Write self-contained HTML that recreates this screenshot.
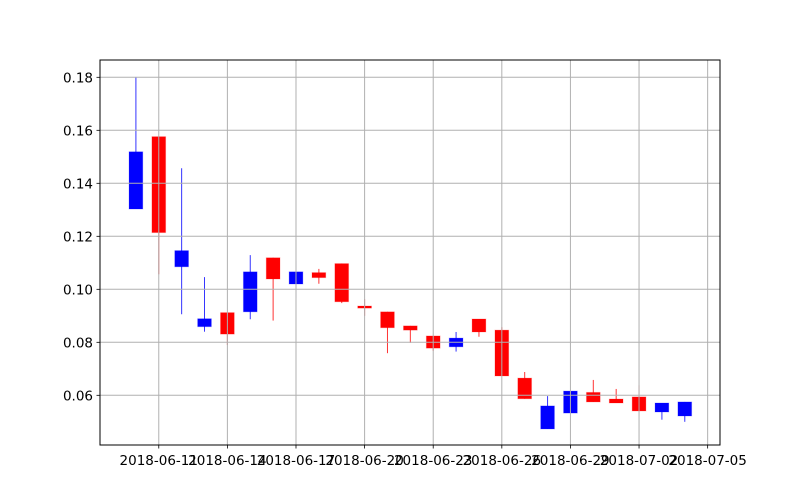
<!DOCTYPE html>
<html><head><meta charset="utf-8"><style>
body{margin:0;background:#fff;}
svg{display:block;font-family:"DejaVu Sans","Liberation Sans",sans-serif;}
</style></head><body>
<svg id="chart" width="800" height="500" viewBox="0 0 800 500"></svg>
<script>
const dates=["2018-06-10","2018-06-11","2018-06-12","2018-06-13","2018-06-14","2018-06-15","2018-06-16","2018-06-17","2018-06-18","2018-06-19","2018-06-20","2018-06-21","2018-06-22","2018-06-23","2018-06-24","2018-06-25","2018-06-26","2018-06-27","2018-06-28","2018-06-29","2018-06-30","2018-07-01","2018-07-02","2018-07-03","2018-07-04"];
const opens=[0.1303,0.1576,0.1085,0.0859,0.0912,0.0915,0.1119,0.1020,0.1063,0.1097,0.0937,0.0915,0.0862,0.0824,0.0783,0.0888,0.0846,0.0665,0.0473,0.0533,0.0611,0.0586,0.0594,0.0537,0.0522];
const closes=[0.1519,0.1214,0.1146,0.0889,0.0831,0.1066,0.1039,0.1066,0.1044,0.0953,0.0929,0.0855,0.0846,0.0778,0.0816,0.0839,0.0673,0.0587,0.0560,0.0616,0.0575,0.0571,0.0541,0.0571,0.0575];
const highs=[0.1800,0.1576,0.1457,0.1046,0.0912,0.1129,0.1119,0.1107,0.1077,0.1097,0.0963,0.0915,0.0862,0.0824,0.0839,0.0888,0.0857,0.0688,0.0597,0.0616,0.0658,0.0624,0.0638,0.0571,0.0575];
const lows=[0.1303,0.1057,0.0906,0.0840,0.0790,0.0887,0.0882,0.0968,0.1021,0.0948,0.0900,0.0759,0.0798,0.0768,0.0765,0.0821,0.0673,0.0587,0.0473,0.0533,0.0575,0.0571,0.0541,0.0508,0.0500];
const yTicks=[0.06,0.08,0.10,0.12,0.14,0.16,0.18];
const xTickLabels=["2018-06-11","2018-06-14","2018-06-17","2018-06-20","2018-06-23","2018-06-26","2018-06-29","2018-07-02","2018-07-05"];

const L=100,R=720,T=60,B=445;
const base=Date.UTC(2018,5,11);
function dayOf(s){const p=s.split('-');return (Date.UTC(+p[0],+p[1]-1,+p[2])-base)/86400000;}
const xMin=-2.57,xMax=24.54,yMin=0.04125,yMax=0.18653;
function X(d){return L+(d-xMin)/(xMax-xMin)*(R-L);}
function Y(v){return B-(v-yMin)/(yMax-yMin)*(B-T);}
const svg=document.getElementById('chart');
const NS="http://www.w3.org/2000/svg";
function mk(tag,attrs,parent){const e=document.createElementNS(NS,tag);for(const k in attrs)e.setAttribute(k,attrs[k]);(parent||svg).appendChild(e);return e;}
const bw=0.6*(R-L)/(xMax-xMin);
dates.forEach((d,i)=>{
  const x=X(dayOf(d));
  const up=closes[i]>=opens[i];
  const col=up?'#0000ff':'#ff0000';
  const g=mk('g',{});
  
  
  const w=mk('line',{x1:x,x2:x,y1:Y(highs[i]),y2:Y(lows[i]),stroke:col,'stroke-width':1,'stroke-opacity':0.8},g);
  
  
  const top=Y(Math.max(opens[i],closes[i])),bot=Y(Math.min(opens[i],closes[i]));
  const r=mk('rect',{x:x-bw/2,y:top,width:bw,height:Math.max(bot-top,1),fill:col,stroke:col,'stroke-opacity':0.2,'stroke-width':1},g);
  
  
});
const grid=mk('g',{});


yTicks.forEach(v=>{
  const y=Y(v);
  const gl=mk('line',{x1:L,x2:R,y1:y,y2:y,stroke:'#b0b0b0','stroke-width':1},grid);
  
  
  const tk=mk('line',{x1:L-3.5,x2:L,y1:y,y2:y,stroke:'#000','stroke-width':0.8});
  
  
  const t=mk('text',{x:L-7,y:y+5,'text-anchor':'end','font-size':'13.5',fill:'#000'});
  t.textContent=v.toFixed(2);
  
  
});
xTickLabels.forEach(s=>{
  const x=X(dayOf(s));
  const gl=mk('line',{x1:x,x2:x,y1:T,y2:B,stroke:'#b0b0b0','stroke-width':1},grid);
  
  
  const tk=mk('line',{x1:x,x2:x,y1:B,y2:B+3.5,stroke:'#000','stroke-width':0.8});
  
  
  const t=mk('text',{x:x,y:B+20,'text-anchor':'middle','font-size':'13.5',fill:'#000'});
  t.textContent=s;
  
  
});
const fr=mk('rect',{x:L,y:T,width:R-L,height:B-T,fill:'none',stroke:'#000','stroke-width':1});


</script>
</body></html>
